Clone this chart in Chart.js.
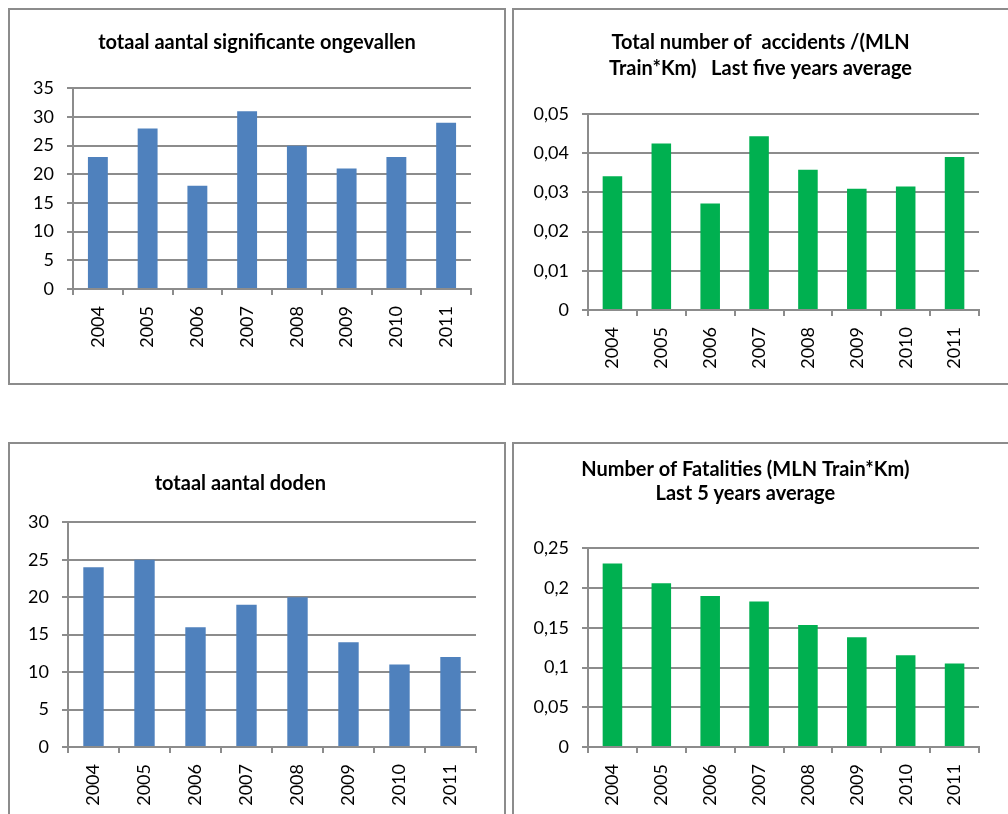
<!DOCTYPE html>
<html>
<head>
<meta charset="utf-8">
<script src="https://cdn.jsdelivr.net/npm/chart.js@4.4.0/dist/chart.umd.min.js"></script>
<style>
  body { margin: 0; background: #fff; width: 1008px; height: 814px; overflow: hidden; position: relative; }
  .box { position: absolute; border: 2px solid #8c8c8c; box-sizing: border-box; }
  canvas { position: absolute; }
</style>
</head>
<body>
<div class="box" style="left:8px;top:8px;width:498px;height:377px"></div>
<div class="box" style="left:512px;top:8px;width:600px;height:377px"></div>
<div class="box" style="left:8px;top:442px;width:498px;height:400px"></div>
<div class="box" style="left:512px;top:442px;width:600px;height:400px"></div>

<canvas id="c1" width="506" height="375" style="left:0;top:9px"></canvas>
<canvas id="c2" width="495" height="375" style="left:513px;top:9px"></canvas>
<canvas id="c3" width="506" height="371" style="left:0;top:443px"></canvas>
<canvas id="c4" width="495" height="371" style="left:513px;top:443px"></canvas>

<script>
// years on the x axis (same for all four charts)
var years = ['2004', '2005', '2006', '2007', '2008', '2009', '2010', '2011'];

// values
var significantAccidents = [23, 28, 18, 31, 25, 21, 23, 29];
var accidentsPerMlnTrainKm = [0.0341, 0.0425, 0.0272, 0.0443, 0.0358, 0.0309, 0.0315, 0.039];
var fatalities = [24, 25, 16, 19, 20, 14, 11, 12];
var fatalitiesPerMlnTrainKm = [0.231, 0.206, 0.19, 0.183, 0.1535, 0.138, 0.1155, 0.105];

// y axis tick values
var ticksAccidents = [0, 5, 10, 15, 20, 25, 30, 35];
var ticksAccidentRate = [0, 0.01, 0.02, 0.03, 0.04, 0.05];
var ticksFatalities = [0, 5, 10, 15, 20, 25, 30];
var ticksFatalityRate = [0, 0.05, 0.1, 0.15, 0.2, 0.25];

var blue = '#4f81bd';
var green = '#00b050';
var gridColor = '#8c8c8c';

/*******************************
* one excel style bar chart
* g holds the placement numbers
*******************************/
function drawChart(id, values, color, title, yTicks, g) {
  return new Chart(id, {
    type: 'bar',
    data: {
      labels: years,
      datasets: [{
        data: values,
        backgroundColor: color,
        barPercentage: 0.4,
        categoryPercentage: 1
      }]
    },
    options: {
      responsive: false,
      animation: false,
      layout: { padding: { left: 0, right: g.padRight, top: 0, bottom: 0 } },
      plugins: {
        legend: { display: false },
        tooltip: { enabled: false },
        title: {
          display: true,
          text: title,
          color: '#000',
          font: { family: 'Lato', size: 20, weight: 'bold', lineHeight: g.lineHeight },
          padding: { top: g.titleTop, bottom: g.titleBottom }
        }
      },
      scales: {
        x: {
          grid: { drawOnChartArea: false, drawTicks: true, tickLength: 6, color: gridColor, lineWidth: 2 },
          border: { color: gridColor, width: 2 },
          ticks: {
            autoSkip: false, minRotation: 90, maxRotation: 90, padding: 11,
            color: '#000', font: { family: 'Lato', size: 18 }
          },
          afterFit: function (s) { s.height = g.xHeight; }
        },
        y: {
          min: 0,
          max: yTicks[yTicks.length - 1],
          grid: { color: gridColor, lineWidth: 2, tickLength: 6 },
          border: { color: gridColor, width: 2 },
          ticks: {
            stepSize: yTicks[1] - yTicks[0],
            padding: 13,
            color: '#000',
            font: { family: 'Lato', size: 18 },
            callback: function (v) { return String(Number(v.toFixed(3))).replace('.', ','); }
          },
          afterFit: function (s) { s.width = g.yWidth; }
        }
      }
    },
    plugins: [{
      // excel centres the title on the chart box, not on the plot
      id: 'titleCentre',
      afterLayout: function (chart) {
        var t = chart.titleBlock;
        var shift = g.titleCentre - (t.left + t.right) / 2;
        t.left += shift;
        t.right += shift;
      }
    }]
  });
}

drawChart('c1', significantAccidents, blue, 'totaal aantal significante ongevallen', ticksAccidents,
  { padRight: 35, yWidth: 73, xHeight: 95, lineHeight: 1.2, titleTop: 21.6, titleBottom: 33.7, titleCentre: 257 });

drawChart('c2', accidentsPerMlnTrainKm, green,
  ['Total number of  accidents /(MLN', 'Train*Km)   Last five years average'], ticksAccidentRate,
  { padRight: 29, yWidth: 75, xHeight: 74, lineHeight: 1.3, titleTop: 21, titleBottom: 32, titleCentre: 247.5 });

drawChart('c3', fatalities, blue, 'totaal aantal doden', ticksFatalities,
  { padRight: 30, yWidth: 68, xHeight: 67, lineHeight: 1.2, titleTop: 28.6, titleBottom: 26.7, titleCentre: 240.3 });

drawChart('c4', fatalitiesPerMlnTrainKm, green,
  ['Number of Fatalities (MLN Train*Km)', 'Last 5 years average'], ticksFatalityRate,
  { padRight: 29, yWidth: 75, xHeight: 67, lineHeight: 1.225, titleTop: 14, titleBottom: 42.3, titleCentre: 232.3 });
</script>
</body>
</html>
